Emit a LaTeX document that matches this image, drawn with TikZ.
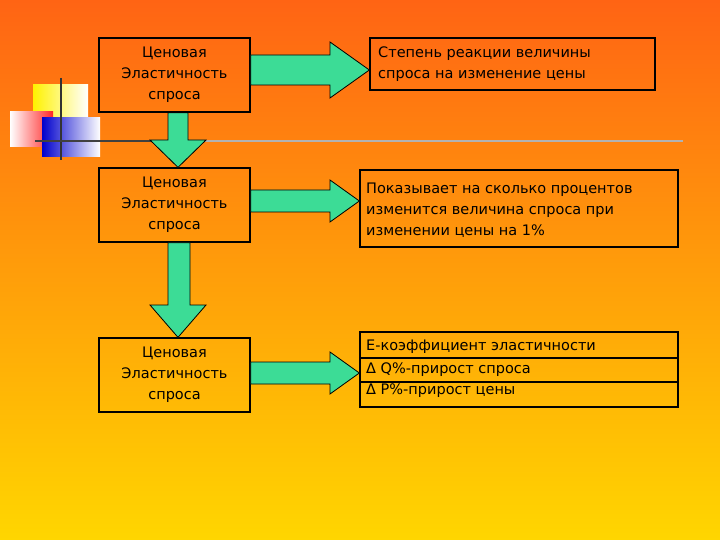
\documentclass[tikz,border=0pt]{standalone}
\usepackage{fontspec}
\setmainfont{DejaVu Sans}
\definecolor{arrg}{RGB}{60,220,150}
\begin{document}
\begin{tikzpicture}[x=1pt,y=-1pt,
  box/.style={draw=black,line width=1.3pt},
  arr/.style={draw=black,line width=0.8pt,fill=arrg},
  txt/.style={font=\fontsize{14.5}{21}\selectfont,align=center,inner sep=0},
  ltxt/.style={font=\fontsize{14.5}{21}\selectfont,align=left,anchor=west,inner sep=0}]
\shade[top color={rgb,255:red,255;green,100;blue,20},bottom color={rgb,255:red,255;green,214;blue,0}] (0,0) rectangle (720,540);
\useasboundingbox (0,0) rectangle (720,540);
% decoration
\shade[left color=yellow!90!orange,right color=white] (33,85) rectangle (88,120);
\shade[left color=white,right color=red!85] (10,112) rectangle (53,147);
\shade[left color=blue!80!black,right color=white] (42,118) rectangle (100,157);
\draw[line width=1.5pt,black!80] (61,78) -- (61,160);
\draw[line width=1.5pt,black!75] (35,141) -- (200,141);
\draw[line width=1.5pt,black!30!white] (200,141) -- (683,141);
% boxes
\node[box,minimum width=151,minimum height=74,txt] (l1) at (174.5,75) {Ценовая\\Эластичность\\спроса};
\node[box,minimum width=151,minimum height=74,txt] (l2) at (174.5,205) {Ценовая\\Эластичность\\спроса};
\node[box,minimum width=151,minimum height=74,txt] (l3) at (174.5,375) {Ценовая\\Эластичность\\спроса};
\node[box,minimum width=285,minimum height=52] (r1) at (512.5,64) {};
\node[ltxt] at (378,64) {Степень реакции величины\\спроса на изменение цены};
\node[box,minimum width=318,minimum height=77] (r2) at (519,208.5) {};
\node[ltxt] at (366,210) {Показывает на сколько процентов\\изменится величина спроса при\\изменении цены на 1\%};
\node[box,minimum width=318,minimum height=75] (r3) at (519,369.5) {};
\draw[line width=1.3pt] (360,358) -- (678,358) (360,382) -- (678,382);
\node[ltxt] at (366,347) {Е-коэффициент эластичности};
\node[ltxt] at (366,369.5) {Δ Q\%-прирост спроса};
\node[ltxt] at (366,391) {Δ P\%-прирост цены};
% right arrows
\draw[arr] (l1.east|-0,55) -- (330,55) -- (330,42) -- (r1.west|-0,70) -- (330,98) -- (330,85) -- (l1.east|-0,85) -- cycle;
\draw[arr] (l2.east|-0,190) -- (330,190) -- (330,180) -- (r2.west|-0,201) -- (330,222) -- (330,212) -- (l2.east|-0,212) -- cycle;
\draw[arr] (l3.east|-0,362) -- (330,362) -- (330,352) -- (r3.west|-0,373) -- (330,394) -- (330,384) -- (l3.east|-0,384) -- cycle;
% down arrows
\draw[arr] (168,0|-l1.south) -- (168,140) -- (150,140) -- (178,0|-l2.north) -- (206,140) -- (188,140) -- (188,0|-l1.south) -- cycle;
\draw[arr] (168,0|-l2.south) -- (168,305) -- (150,305) -- (178,0|-l3.north) -- (206,305) -- (190,305) -- (190,0|-l2.south) -- cycle;
\end{tikzpicture}
\end{document}
